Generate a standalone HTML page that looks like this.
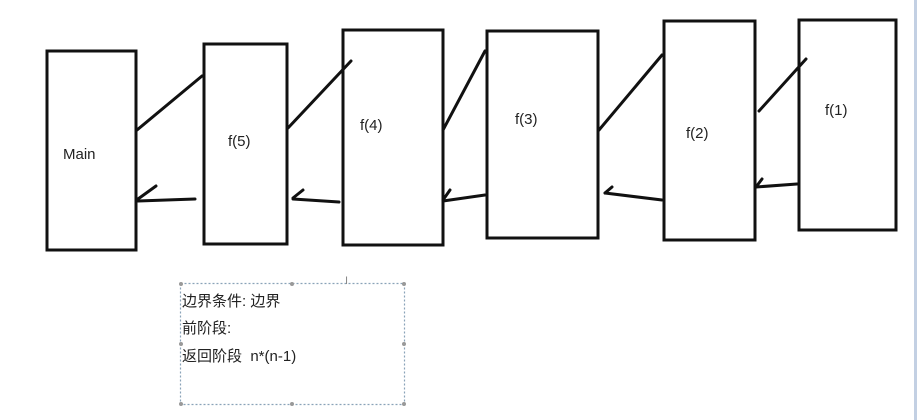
<!DOCTYPE html>
<html><head><meta charset="utf-8"><style>
html,body{margin:0;padding:0;background:#fff;width:919px;height:420px;overflow:hidden;}
</style></head><body>
<svg width="919" height="420" xmlns="http://www.w3.org/2000/svg" style="position:absolute;left:0;top:0">
<rect x="914" y="0" width="3" height="420" fill="#c3d0e3"/>
<g fill="none" stroke="#111" stroke-width="3">
<rect x="47" y="51" width="89" height="199"/>
<rect x="204" y="44" width="83" height="200"/>
<rect x="343" y="30" width="100" height="215"/>
<rect x="487" y="31" width="111" height="207"/>
<rect x="664" y="21" width="91" height="219"/>
<rect x="799" y="20" width="97" height="210"/>
</g>
<g stroke="#111" stroke-width="3" stroke-linecap="round" fill="none">
<line x1="137" y1="130" x2="202" y2="76"/>
<line x1="288" y1="128" x2="351" y2="61"/>
<line x1="443" y1="130" x2="485" y2="51"/>
<line x1="599" y1="130" x2="662" y2="55"/>
<line x1="759" y1="111" x2="806" y2="59"/>
<line x1="195" y1="199" x2="138" y2="201"/>
<line x1="138" y1="199" x2="156" y2="186"/>
<line x1="339" y1="202" x2="293" y2="199"/>
<line x1="293" y1="198" x2="303" y2="190"/>
<line x1="485" y1="195" x2="443" y2="201"/>
<line x1="443" y1="200" x2="450" y2="190"/>
<line x1="662" y1="200" x2="605" y2="193"/>
<line x1="605" y1="193" x2="612" y2="187"/>
<line x1="797" y1="184" x2="756" y2="187"/>
<line x1="756" y1="187" x2="762" y2="179"/>
</g>
<g font-family="Liberation Sans, sans-serif" font-size="15" fill="#222">
<text x="63" y="159">Main</text>
<text x="228" y="146">f(5)</text>
<text x="360" y="130">f(4)</text>
<text x="515" y="124">f(3)</text>
<text x="686" y="138">f(2)</text>
<text x="825" y="115">f(1)</text>
</g>
<rect x="180.5" y="283.5" width="224" height="121" fill="none" stroke="#8aa3b8" stroke-width="1.2" stroke-dasharray="2,2"/>
<g fill="#999"><circle cx="181" cy="284" r="2"/><circle cx="292" cy="284" r="2"/><circle cx="404" cy="284" r="2"/><circle cx="181" cy="344" r="2"/><circle cx="404" cy="344" r="2"/><circle cx="181" cy="404" r="2"/><circle cx="292" cy="404" r="2"/><circle cx="404" cy="404" r="2"/></g>
<text x="345" y="284" font-family="Liberation Sans, sans-serif" font-size="11" fill="#888">I</text>
<g font-family="Liberation Sans, 'Noto Sans CJK SC', sans-serif" font-size="15" fill="#222">
<text x="182" y="306">边界条件: 边界</text>
<text x="182" y="333">前阶段:</text>
<text x="182" y="361">返回阶段&#160;&#160;n*(n-1)</text>
</g>
</svg>
</body></html>
